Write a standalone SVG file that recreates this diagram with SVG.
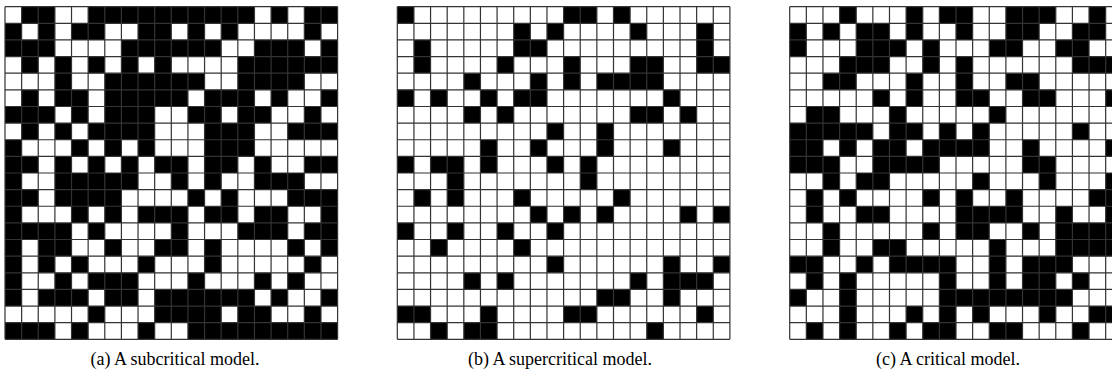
<svg xmlns="http://www.w3.org/2000/svg" xmlns:xlink="http://www.w3.org/1999/xlink" width="1112" height="377" viewBox="0 0 1112 377">
<style>
.cell{fill:#000;stroke:none}
.grid{fill:none;stroke:#333;stroke-width:1.2;vector-effect:non-scaling-stroke}
.cap{font-family:"Liberation Serif","DejaVu Serif",serif;font-size:18px;fill:#000;text-anchor:middle}
</style>
<defs>
<path id="lines" class="grid" d="M0 0H20M0 1H20M0 2H20M0 3H20M0 4H20M0 5H20M0 6H20M0 7H20M0 8H20M0 9H20M0 10H20M0 11H20M0 12H20M0 13H20M0 14H20M0 15H20M0 16H20M0 17H20M0 18H20M0 19H20M0 20H20M0 0V20M1 0V20M2 0V20M3 0V20M4 0V20M5 0V20M6 0V20M7 0V20M8 0V20M9 0V20M10 0V20M11 0V20M12 0V20M13 0V20M14 0V20M15 0V20M16 0V20M17 0V20M18 0V20M19 0V20M20 0V20"/>
</defs>
<rect width="1112" height="377" fill="#fff"/>
<g id="panel-a">
<g transform="translate(5 6.7) scale(16.63)">
<path class="cell" d="M1 0h2v1h-2zM5 0h10v1h-10zM16 0h1v1h-1zM18 0h2v1h-2z
M0 1h1v1h-1zM2 1h1v1h-1zM4 1h2v1h-2zM8 1h2v1h-2zM11 1h1v1h-1zM13 1h1v1h-1zM18 1h1v1h-1z
M0 2h3v1h-3zM7 2h6v1h-6zM15 2h3v1h-3zM19 2h1v1h-1z
M1 3h1v1h-1zM3 3h1v1h-1zM5 3h1v1h-1zM7 3h1v1h-1zM9 3h1v1h-1zM14 3h6v1h-6z
M3 4h1v1h-1zM6 4h6v1h-6zM14 4h4v1h-4z
M1 5h1v1h-1zM3 5h2v1h-2zM6 5h5v1h-5zM12 5h3v1h-3zM16 5h1v1h-1zM19 5h1v1h-1z
M0 6h3v1h-3zM4 6h1v1h-1zM6 6h3v1h-3zM11 6h2v1h-2zM14 6h2v1h-2zM18 6h1v1h-1z
M1 7h1v1h-1zM3 7h1v1h-1zM5 7h4v1h-4zM12 7h3v1h-3zM17 7h3v1h-3z
M0 8h1v1h-1zM4 8h1v1h-1zM6 8h1v1h-1zM8 8h1v1h-1zM12 8h3v1h-3z
M0 9h2v1h-2zM3 9h1v1h-1zM5 9h1v1h-1zM7 9h1v1h-1zM9 9h2v1h-2zM12 9h2v1h-2zM15 9h1v1h-1zM18 9h2v1h-2z
M0 10h1v1h-1zM3 10h5v1h-5zM10 10h1v1h-1zM12 10h1v1h-1zM15 10h3v1h-3z
M0 11h2v1h-2zM3 11h4v1h-4zM11 11h1v1h-1zM13 11h1v1h-1zM17 11h3v1h-3z
M0 12h1v1h-1zM4 12h1v1h-1zM6 12h1v1h-1zM8 12h3v1h-3zM12 12h2v1h-2zM15 12h2v1h-2zM19 12h1v1h-1z
M0 13h4v1h-4zM5 13h1v1h-1zM10 13h1v1h-1zM14 13h3v1h-3zM18 13h2v1h-2z
M0 14h1v1h-1zM2 14h2v1h-2zM6 14h1v1h-1zM9 14h2v1h-2zM12 14h1v1h-1zM17 14h1v1h-1zM19 14h1v1h-1z
M0 15h1v1h-1zM2 15h1v1h-1zM4 15h1v1h-1zM8 15h1v1h-1zM12 15h1v1h-1zM18 15h1v1h-1z
M0 16h1v1h-1zM3 16h1v1h-1zM5 16h3v1h-3zM11 16h1v1h-1zM15 16h1v1h-1zM17 16h1v1h-1z
M0 17h1v1h-1zM2 17h3v1h-3zM6 17h2v1h-2zM9 17h6v1h-6zM16 17h1v1h-1zM19 17h1v1h-1z
M5 18h1v1h-1zM9 18h4v1h-4zM14 18h2v1h-2zM18 18h1v1h-1z
M0 19h3v1h-3zM4 19h1v1h-1zM8 19h1v1h-1zM11 19h9v1h-9z"/>
<use xlink:href="#lines" href="#lines"/>
</g>
<text class="cap" x="175" y="365">(a) A subcritical model.</text>
</g>
<g id="panel-b">
<g transform="translate(397.3 6.7) scale(16.63)">
<path class="cell" d="M0 0h1v1h-1zM10 0h2v1h-2zM13 0h1v1h-1z
M7 1h1v1h-1zM9 1h1v1h-1zM14 1h1v1h-1zM18 1h1v1h-1z
M1 2h1v1h-1zM7 2h2v1h-2zM18 2h1v1h-1z
M1 3h1v1h-1zM6 3h1v1h-1zM10 3h1v1h-1zM14 3h2v1h-2zM18 3h2v1h-2z
M4 4h1v1h-1zM8 4h1v1h-1zM10 4h1v1h-1zM12 4h4v1h-4z
M0 5h1v1h-1zM2 5h1v1h-1zM5 5h1v1h-1zM7 5h2v1h-2zM16 5h1v1h-1z
M4 6h1v1h-1zM6 6h1v1h-1zM14 6h2v1h-2zM17 6h1v1h-1z
M9 7h1v1h-1zM12 7h1v1h-1z
M5 8h1v1h-1zM8 8h1v1h-1zM12 8h1v1h-1zM16 8h1v1h-1z
M0 9h1v1h-1zM2 9h2v1h-2zM5 9h1v1h-1zM9 9h1v1h-1zM11 9h1v1h-1z
M3 10h1v1h-1zM11 10h1v1h-1z
M1 11h1v1h-1zM3 11h1v1h-1zM7 11h1v1h-1zM13 11h1v1h-1z
M8 12h1v1h-1zM10 12h1v1h-1zM12 12h1v1h-1zM17 12h1v1h-1zM19 12h1v1h-1z
M0 13h1v1h-1zM3 13h1v1h-1zM6 13h1v1h-1zM9 13h1v1h-1z
M2 14h1v1h-1zM7 14h1v1h-1z
M9 15h1v1h-1zM16 15h1v1h-1zM19 15h1v1h-1z
M4 16h1v1h-1zM6 16h1v1h-1zM14 16h1v1h-1zM16 16h3v1h-3z
M12 17h2v1h-2zM16 17h1v1h-1z
M0 18h2v1h-2zM5 18h1v1h-1zM10 18h2v1h-2zM18 18h1v1h-1z
M2 19h1v1h-1zM4 19h2v1h-2zM15 19h1v1h-1z"/>
<use xlink:href="#lines" href="#lines"/>
</g>
<text class="cap" x="560" y="365">(b) A supercritical model.</text>
</g>
<g id="panel-c">
<g transform="translate(789.7 6.7) scale(16.63)">
<path class="cell" d="M3 0h1v1h-1zM7 0h1v1h-1zM9 0h2v1h-2zM13 0h3v1h-3zM18 0h1v1h-1z
M0 1h1v1h-1zM2 1h1v1h-1zM4 1h2v1h-2zM7 1h1v1h-1zM10 1h1v1h-1zM13 1h2v1h-2zM17 1h2v1h-2z
M0 2h1v1h-1zM4 2h3v1h-3zM8 2h1v1h-1zM12 2h2v1h-2zM16 2h2v1h-2z
M3 3h3v1h-3zM8 3h1v1h-1zM10 3h1v1h-1zM17 3h3v1h-3z
M2 4h2v1h-2zM7 4h1v1h-1zM10 4h1v1h-1zM13 4h2v1h-2z
M5 5h1v1h-1zM7 5h1v1h-1zM10 5h2v1h-2zM14 5h2v1h-2zM19 5h1v1h-1z
M1 6h2v1h-2zM6 6h1v1h-1zM12 6h1v1h-1z
M0 7h5v1h-5zM6 7h2v1h-2zM9 7h1v1h-1zM11 7h1v1h-1zM17 7h1v1h-1z
M0 8h2v1h-2zM3 8h1v1h-1zM5 8h2v1h-2zM8 8h4v1h-4zM14 8h1v1h-1zM19 8h1v1h-1z
M0 9h3v1h-3zM5 9h4v1h-4zM14 9h2v1h-2z
M2 10h1v1h-1zM4 10h2v1h-2zM11 10h1v1h-1zM15 10h1v1h-1zM19 10h1v1h-1z
M1 11h1v1h-1zM3 11h1v1h-1zM8 11h1v1h-1zM10 11h1v1h-1zM13 11h1v1h-1zM18 11h2v1h-2z
M1 12h1v1h-1zM4 12h2v1h-2zM10 12h4v1h-4zM16 12h1v1h-1zM19 12h1v1h-1z
M2 13h1v1h-1zM8 13h1v1h-1zM10 13h2v1h-2zM14 13h1v1h-1zM16 13h4v1h-4z
M2 14h1v1h-1zM5 14h2v1h-2zM12 14h1v1h-1zM16 14h4v1h-4z
M0 15h2v1h-2zM4 15h1v1h-1zM6 15h4v1h-4zM12 15h1v1h-1zM14 15h3v1h-3z
M1 16h1v1h-1zM3 16h1v1h-1zM9 16h1v1h-1zM12 16h1v1h-1zM14 16h2v1h-2zM17 16h1v1h-1z
M0 17h1v1h-1zM3 17h1v1h-1zM9 17h8v1h-8z
M3 18h1v1h-1zM7 18h1v1h-1zM9 18h1v1h-1zM11 18h1v1h-1zM15 18h1v1h-1zM18 18h2v1h-2z
M1 19h1v1h-1zM3 19h1v1h-1zM6 19h1v1h-1zM8 19h2v1h-2zM12 19h2v1h-2zM17 19h1v1h-1z"/>
<use xlink:href="#lines" href="#lines"/>
</g>
<text class="cap" x="948" y="365">(c) A critical model.</text>
</g>
</svg>
